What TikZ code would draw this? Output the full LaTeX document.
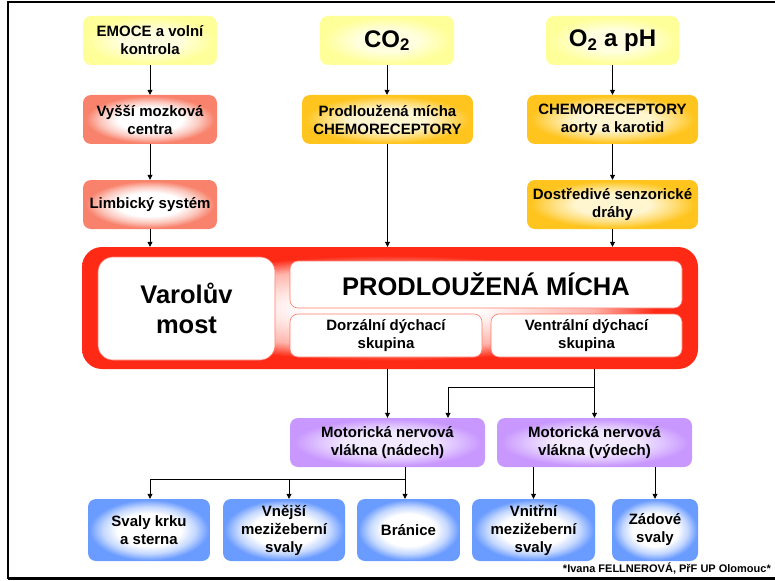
\documentclass[tikz,border=0pt]{standalone}
\usepackage{fontspec}
\setmainfont{Liberation Sans}
\usetikzlibrary{arrows.meta}
\definecolor{yelc}{HTML}{FFFF99}
\definecolor{yelin}{HTML}{FFFFE0}
\definecolor{salc}{HTML}{F8826C}
\definecolor{salin}{HTML}{FFFFFF}
\definecolor{goldc}{HTML}{FFC41E}
\definecolor{goldin}{HTML}{FFF6D0}
\definecolor{purc}{HTML}{C998FF}
\definecolor{purin}{HTML}{F2E8FF}
\definecolor{bluc}{HTML}{6A9BFF}
\definecolor{bluin}{HTML}{FFFFFF}
\colorlet{yelmid}{yelc!55!yelin}
\colorlet{salmid}{salc!45!salin}
\colorlet{goldmid}{goldc!50!goldin}
\colorlet{purmid}{purc!50!purin}
\colorlet{blumid}{bluc!40!bluin}
\definecolor{redc}{HTML}{FF2A16}
\definecolor{redmid}{HTML}{FFB4AA}
\definecolor{redline}{HTML}{FF7A6A}
\pgfdeclareradialshading{yelglow}{\pgfpoint{0bp}{0bp}}{color(0bp)=(yelin); color(11bp)=(yelin); color(18bp)=(yelmid); color(24bp)=(yelc); color(50bp)=(yelc)}
\pgfdeclareradialshading{salglow}{\pgfpoint{0bp}{0bp}}{color(0bp)=(salin); color(12bp)=(salin); color(18.5bp)=(salmid); color(24bp)=(salc); color(50bp)=(salc)}
\pgfdeclareradialshading{goldglow}{\pgfpoint{0bp}{0bp}}{color(0bp)=(goldin); color(11bp)=(goldin); color(18bp)=(goldmid); color(24bp)=(goldc); color(50bp)=(goldc)}
\pgfdeclareradialshading{purglow}{\pgfpoint{0bp}{0bp}}{color(0bp)=(purin); color(11bp)=(purin); color(18bp)=(purmid); color(24bp)=(purc); color(50bp)=(purc)}
\pgfdeclareradialshading{bluglow}{\pgfpoint{0bp}{0bp}}{color(0bp)=(bluin); color(13bp)=(bluin); color(19bp)=(blumid); color(24.5bp)=(bluc); color(50bp)=(bluc)}
\pgfdeclareradialshading{redglow}{\pgfpoint{0bp}{0bp}}{color(0bp)=(white); color(7bp)=(white); color(16.5bp)=(redmid); color(21.5bp)=(redc); color(25bp)=(redc); color(50bp)=(redc)}
\tikzset{
  box/.style={rectangle, rounded corners=8pt, align=center, inner sep=0pt,
    font=\fontsize{15}{18}\selectfont\bfseries},
  yelbox/.style={box, shading=yelglow},
  salbox/.style={box, shading=salglow},
  goldbox/.style={box, shading=goldglow},
  purbox/.style={box, shading=purglow},
  blubox/.style={box, shading=bluglow},
  whitebox/.style={box, fill=white, draw=redline, line width=0.6pt},
  arr/.style={-{Triangle[length=5pt,width=5pt]}, line width=0.8pt},
  ln/.style={line width=0.8pt},
  frame/.style={line width=2.6pt, black}
}
\begin{document}
\begin{tikzpicture}[x=1pt,y=-1pt]
\useasboundingbox (0,0) rectangle (775,580);
% frame
\draw[frame] (8,578.5) -- (8,2) -- (775,2);
\draw[frame] (8,578.5) -- (775,578.5);
% top row
\node[yelbox, minimum width=134pt, minimum height=49pt] (emoce) at (150,40.5) {EMOCE a volní\\kontrola};
\node[yelbox, minimum width=134pt, minimum height=49pt, font=\fontsize{24}{28}\selectfont\bfseries] (co2) at (387,40.5) {CO\textsubscript{2}};
\node[yelbox, minimum width=133pt, minimum height=49pt, font=\fontsize{24}{28}\selectfont\bfseries] (o2) at (612.5,40.5) {O\textsubscript{2} a pH};
% second row
\node[salbox, minimum width=134pt, minimum height=49pt] (vyssi) at (150,119.5) {Vyšší mozková\\centra};
\node[goldbox, minimum width=171pt, minimum height=49pt] (prodch) at (387.5,119.5) {Prodloužená mícha\\CHEMORECEPTORY};
\node[goldbox, minimum width=171pt, minimum height=49pt] (chemo) at (612.5,119.5) {CHEMORECEPTORY\\aorty a karotid};
% third row
\node[salbox, minimum width=134pt, minimum height=49pt] (limb) at (150,204.5) {Limbický systém};
\node[goldbox, minimum width=171pt, minimum height=49pt] (dostr) at (612.5,204.5) {Dostředivé senzorické\\dráhy};
% big red block
\node[box, rounded corners=20pt, shading=redglow, minimum width=616pt, minimum height=122pt] (red) at (390,308) {};
\node[whitebox, rounded corners=15pt, minimum width=177pt, minimum height=103pt, font=\fontsize{25.5}{30}\selectfont\bfseries] (varol) at (186.5,308.5) {Varolův\\most};
\node[whitebox, minimum width=392pt, minimum height=47pt, font=\fontsize{25.5}{30}\selectfont\bfseries] (prod) at (486,284.5) {PRODLOUŽENÁ MÍCHA};
\node[whitebox, minimum width=192pt, minimum height=43pt] (dorz) at (386,335.5) {Dorzální dýchací\\skupina};
\node[whitebox, minimum width=191pt, minimum height=43pt] (ventr) at (586.5,335.5) {Ventrální dýchací\\skupina};
% motor fibres
\node[purbox, minimum width=195pt, minimum height=49pt] (nadech) at (387.5,442.5) {Motorická nervová\\vlákna (nádech)};
\node[purbox, minimum width=195pt, minimum height=49pt] (vydech) at (594.5,442.5) {Motorická nervová\\vlákna (výdech)};
% muscles
\node[blubox, minimum width=122pt, minimum height=62pt] (svaly) at (149,530) {Svaly krku\\a sterna};
\node[blubox, minimum width=122pt, minimum height=62pt] (vnejsi) at (284,530) {Vnější\\mezižeberní\\svaly};
\node[blubox, minimum width=103pt, minimum height=62pt] (branice) at (408.5,530) {Bránice};
\node[blubox, minimum width=123pt, minimum height=62pt] (vnitrni) at (533.5,530) {Vnitřní\\mezižeberní\\svaly};
\node[blubox, minimum width=86pt, minimum height=62pt] (zadove) at (655,530) {Zádové\\svaly};
% footer
\node[anchor=base east, inner sep=0pt, font=\fontsize{11}{13}\selectfont\bfseries] (foot) at (771,572) {*Ivana FELLNEROVÁ, PřF UP Olomouc*};
% connectors - left column
\draw[arr] (emoce.south) -- (vyssi.north);
\draw[arr] (vyssi.south) -- (limb.north);
\draw[arr] (limb.south) -- (limb.south |- red.north);
% middle column
\draw[arr] (co2.south) -- (co2.south |- prodch.north);
\draw[arr] (prodch.south) -- (prodch.south |- red.north);
% right column
\draw[arr] (o2.south) -- (chemo.north);
\draw[arr] (chemo.south) -- (dostr.north);
\draw[arr] (dostr.south) -- (dostr.south |- red.north);
% red block to motor fibres
\draw[arr] (nadech.north |- red.south) -- (nadech.north);
\draw[arr] (vydech.north |- red.south) -- (vydech.north);
\coordinate (jv) at (594.5,387);
\draw[arr] (jv) -| ([xshift=60.5pt]nadech.north);
% nadech to muscles
\coordinate (jn) at (405,479);
\draw[ln] (jn |- nadech.south) -- (jn);
\draw[arr] (jn) -- (jn |- branice.north);
\draw[arr] (jn) -| ([xshift=1pt]svaly.north);
\draw[arr] (jn) -| ([xshift=5pt]vnejsi.north);
% vydech to muscles
\draw[arr] (vnitrni.north |- vydech.south) -- (vnitrni.north);
\draw[arr] (zadove.north |- vydech.south) -- (zadove.north);
\end{tikzpicture}
\end{document}
